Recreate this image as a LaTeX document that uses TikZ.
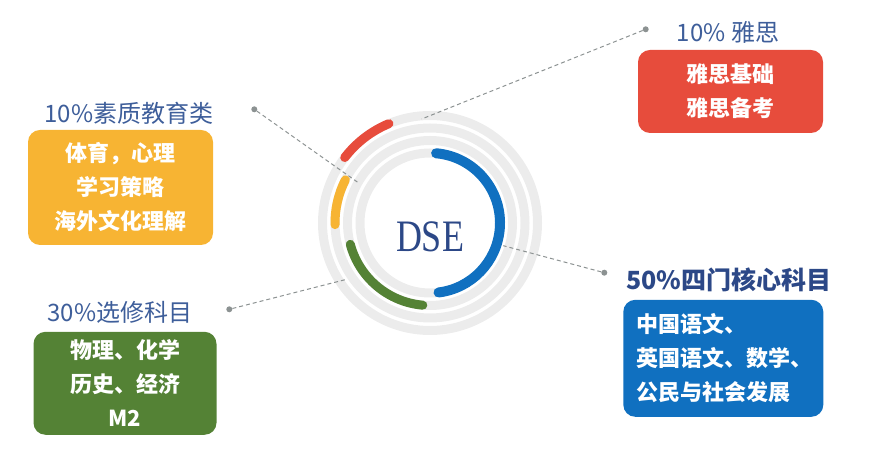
\documentclass[tikz,border=0pt]{standalone}
\usepackage{fontspec}
\setmainfont{Liberation Serif}
\newfontfamily\cjk{Noto Sans CJK SC}
\definecolor{titleblue}{RGB}{62,94,154}
\definecolor{darkblue}{RGB}{44,72,135}
\definecolor{ringgray}{RGB}{236,236,236}
\definecolor{ieltsred}{RGB}{231,76,60}
\definecolor{qualyellow}{RGB}{247,180,51}
\definecolor{electgreen}{RGB}{84,130,53}
\definecolor{coreblue}{RGB}{16,112,192}
\definecolor{dotgray}{RGB}{140,146,146}

\begin{document}
\begin{tikzpicture}[x=1pt,y=1pt,
    ring/.style={draw=ringgray, line width=9pt},
    arcpart/.style={line width=9pt, line cap=round},
    leader/.style={draw=dotgray, line width=1pt, dash pattern=on 4pt off 3pt},
    dotmark/.style={circle, fill=dotgray, inner sep=0, minimum size=6pt},
    heading/.style={font=\cjk\fontsize{24}{24}\selectfont, text=titleblue, inner sep=0},
    infobox/.style={rounded corners=12pt, text=white, inner sep=0,
        font=\cjk\bfseries\fontsize{22}{34}\selectfont, align=center}]
    \useasboundingbox (0,0) rectangle (869,457);

    % Rings
    \coordinate (c) at (430,234);
    \foreach \r in {70,82.5,95,107.5}
        \draw[ring] (c) circle (\r);

    % Coloured parts
    \draw[arcpart, ieltsred] ([shift={(112.5:107.5)}]c) arc (112.5:142.5:107.5);
    \draw[arcpart, qualyellow] ([shift={(153:95)}]c) arc (153:181:95);
    \draw[arcpart, electgreen] ([shift={(195:82.5)}]c) arc (195:265:82.5);
    \draw[arcpart, coreblue, line width=10pt] ([shift={(85:70)}]c) arc (85:-83:70);

    % Centre label
    \node[text=darkblue, font=\fontsize{45}{45}\selectfont, inner sep=0] (dse) at (430,220)
        {\scalebox{0.8}[1]{DSE}};

    % Leader lines
    \coordinate (ieltsend) at (421.7,338);
    \coordinate (qualend) at (358.3,274.3);
    \coordinate (electend) at (346.7,177.7);
    \coordinate (coreend) at (503.3,211.3);
    \node[dotmark] (ieltsdot) at (645.7,427.7) {};
    \node[dotmark] (qualdot) at (254.3,347.7) {};
    \node[dotmark] (electdot) at (229.3,147.7) {};
    \node[dotmark] (coredot) at (604.3,184.3) {};
    \draw[leader] (ieltsdot) -- (ieltsend);
    \draw[leader] (qualdot) -- (qualend);
    \draw[leader] (electdot) -- (electend);
    \draw[leader] (coredot) -- (coreend);

    % Headings
    \node[heading] (ieltstitle) at (728,425) {10\% 雅思};
    \node[heading] (qualtitle) at (129,344) {10\%素质教育类};
    \node[heading] (electtitle) at (120,144.5) {30\%选修科目};
    \node[heading, text=darkblue, font=\cjk\bfseries\fontsize{25}{25}\selectfont]
        (coretitle) at (729,177) {50\%四门核心科目};

    % Boxes
    \node[infobox, fill=ieltsred, minimum width=185pt, minimum height=83pt]
        (ieltsbox) at (730.5,365.5) {雅思基础\\雅思备考};
    \node[infobox, fill=qualyellow, minimum width=185pt, minimum height=115pt]
        (qualbox) at (120.5,269.5) {体育，心理\\学习策略\\海外文化理解};
    \node[infobox, fill=electgreen, minimum width=183pt, minimum height=103pt]
        (electbox) at (125,73.7) {物理、化学\\历史、经济\\M2};
    \node[infobox, fill=coreblue, align=left, text width=173pt, inner xsep=13.5pt,
        minimum height=117pt] (corebox) at (723.3,98.7)
        {中国语文、\\英国语文、数学、\\公民与社会发展};
\end{tikzpicture}
\end{document}
